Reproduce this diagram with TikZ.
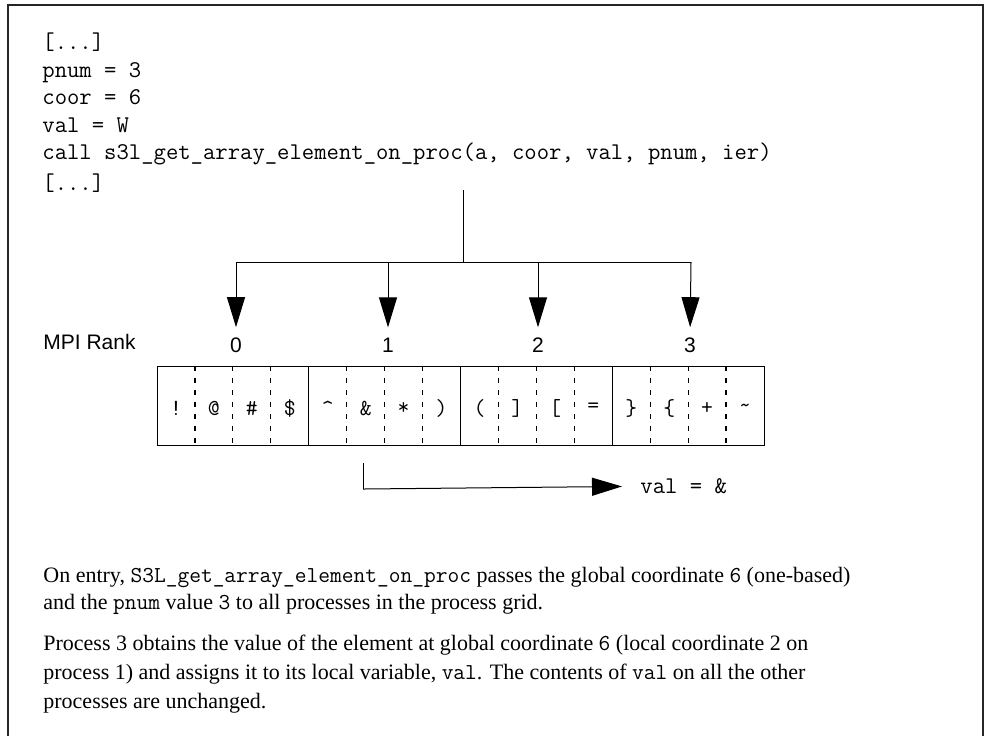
\documentclass[tikz,border=0pt]{standalone}
\usepackage{fontspec}
\setmainfont{Liberation Serif}
\setmonofont{Latin Modern Mono}
\newfontfamily\helv{Liberation Sans}
\usetikzlibrary{arrows.meta}
\begin{document}
\begin{tikzpicture}[x=0.5pt,y=-0.5pt,
  code/.style={anchor=mid west,inner sep=0pt,font=\ttfamily\fontsize{12}{14}\selectfont},
  ranklbl/.style={inner sep=0pt,font=\helv\fontsize{10.5}{12}\selectfont},
  cellch/.style={inner sep=0pt,font=\ttfamily\fontsize{11.5}{13}\selectfont},
  body/.style={anchor=mid west,inner sep=0pt,font=\fontsize{11}{13}\selectfont},
  ln/.style={line width=0.5pt,black},
  bigarrow/.style={ln,-{Triangle[length=15pt,width=9pt]}},
  celldash/.style={line width=0.6pt,dash pattern=on 2.5pt off 3.5pt},
  frame/.style={line width=0.8pt,black!85}]
\newcommand{\inl}[1]{{\ttfamily\fontsize{11.4}{13}\selectfont #1}}
\useasboundingbox (0,0) rectangle (988,736);
% frame (open at bottom)
\draw[frame] (8,736) -- (8,5) -- (983,5) -- (983,736);
% code
\node[code] (c1) at (42,45) {[...]};
\node[code] (c2) at (42,73) {pnum = 3};
\node[code] (c3) at (42,100) {coor = 6};
\node[code] (c4) at (42,128) {val = W};
\node[code] (c5) at (42,155) {call s3l\_get\_array\_element\_on\_proc(a, coor, val, pnum, ier)};
\node[code] (c6) at (42,186) {[...]};
% tree
\coordinate (src) at (463,190);
\coordinate (hub) at (463,262);
\coordinate (b0) at (236,262);
\coordinate (b1) at (388,262);
\coordinate (b2) at (538,262);
\coordinate (b3) at (691,262);
\node[ranklbl,anchor=mid west] (mpi) at (43,345) {MPI Rank};
\node[ranklbl] (r0) at (236,345) {0};
\node[ranklbl] (r1) at (388,345) {1};
\node[ranklbl] (r2) at (538,345) {2};
\node[ranklbl] (r3) at (690,345) {3};
\draw[ln] (src) -- (hub);
\draw[ln] (b0) -- (b3);
\draw[bigarrow,shorten >=5pt] (b0) -- (r0.north);
\draw[bigarrow,shorten >=5pt] (b1) -- (r1.north);
\draw[bigarrow,shorten >=5pt] (b2) -- (r2.north);
\draw[bigarrow,shorten >=5pt] (b3) -- (r3.north);
% array
\draw[ln] (157,366) rectangle (764,445);
\foreach \i in {1,...,15}{
  \pgfmathsetmacro{\xx}{157+37.9375*\i}
  \pgfmathtruncatemacro{\m}{mod(\i,4)}
  \ifnum\m=0
    \draw[ln] (\xx,366) -- (\xx,445);
  \else
    \draw[ln,celldash] (\xx,366) -- (\xx,445);
  \fi
}
\node[cellch] (cell0) at (176.0,408) {!};
\node[cellch] (cell1) at (213.9,408) {@};
\node[cellch] (cell2) at (251.8,408) {\#};
\node[cellch] (cell3) at (289.8,408) {\$};
\node[cellch] (cell4) at (327.7,408) {\textasciicircum};
\node[cellch] (cell5) at (365.7,408) {\&};
\node[cellch] (cell6) at (403.6,408) {*};
\node[cellch] (cell7) at (441.5,408) {)};
\node[cellch] (cell8) at (479.5,408) {(};
\node[cellch] (cell9) at (517.4,408) {]};
\node[cellch] (cell10) at (555.3,408) {[};
\node[cellch] (cell11) at (593.3,408) {=};
\node[cellch] (cell12) at (631.2,408) {\}};
\node[cellch] (cell13) at (669.2,408) {\{};
\node[cellch] (cell14) at (707.1,408) {+};
\node[cellch] (cell15) at (745.0,408) {\textasciitilde};
% result arrow
\coordinate (pick) at (363,463);
\coordinate (corner) at (363,489);
\node[code] (valres) at (640,489) {val = \&};
\draw[ln] (pick) -- (corner);
\draw[bigarrow,shorten >=9pt] (corner) -- (valres.west);
% body text
\node[body] (t1) at (43,578) {On entry, \inl{S3L\_get\_array\_element\_on\_proc} passes the global coordinate \inl{6} (one-based)};
\node[body] (t2) at (43,605) {and the \inl{pnum} value \inl{3} to all processes in the process grid.};
\node[body] (t3) at (43,646) {Process 3 obtains the value of the element at global coordinate \inl{6} (local coordinate 2 on};
\node[body] (t4) at (43,675) {process 1) and assigns it to its local variable, \inl{val}. The contents of \inl{val} on all the other};
\node[body] (t5) at (43,704) {processes are unchanged.};
\end{tikzpicture}
\end{document}
